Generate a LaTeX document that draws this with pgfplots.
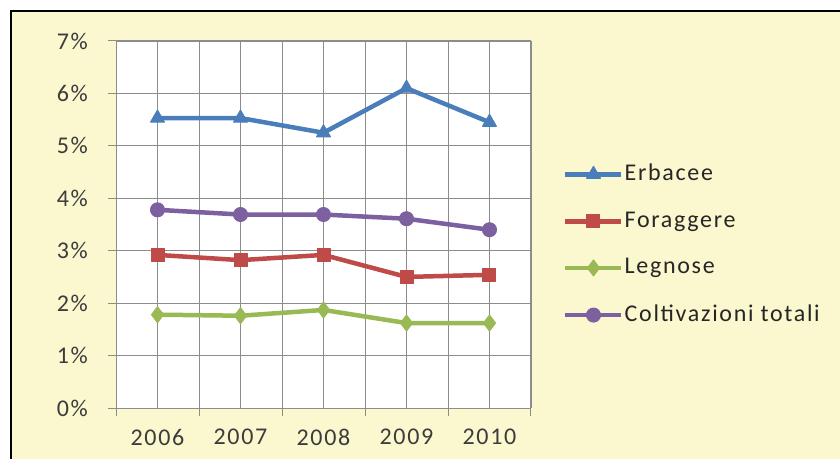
\documentclass[border=0pt]{standalone}
\usepackage{fontspec}
\setmainfont{Carlito}[LetterSpace=7]
\usepackage{pgfplots}
\pgfplotsset{compat=1.18}
\definecolor{bgyellow}{RGB}{251,247,206}
\definecolor{cblue}{RGB}{74,126,187}
\definecolor{cred}{RGB}{190,75,72}
\definecolor{cgreen}{RGB}{152,185,84}
\definecolor{cpurple}{RGB}{125,96,160}
\definecolor{gridgray}{RGB}{140,140,140}
\definecolor{txt}{RGB}{60,60,60}
\begin{document}
\fontsize{24bp}{28bp}\selectfont
\begin{tikzpicture}
\useasboundingbox (0bp,0bp) rectangle (840bp,459bp);
\fill[white] (0bp,0bp) rectangle (840bp,459bp);
\fill[bgyellow] (11bp,0bp) rectangle (840bp,448bp);
\draw[line width=2.5bp] (11bp,-3bp) -- (11bp,448bp) -- (843bp,448bp);
\begin{axis}[
  at={(116bp,51bp)}, anchor=south west,
  scale only axis, width=415bp, height=367bp,
  xmin=-0.5, xmax=4.5, ymin=0, ymax=7,
  axis background/.style={fill=white},
  xtick={0,1,2,3,4},
  xticklabels={2006,2007,2008,2009,2010},
  minor xtick={-0.5,0.5,1.5,2.5,3.5,4.5},
  ytick={0,1,2,3,4,5,6,7},
  yticklabel={\pgfmathprintnumber{\tick}\%},
  /pgf/number format/assume math mode=true,
  grid=both,
  major grid style={gridgray, line width=0.8bp},
  minor grid style={gridgray, line width=0.8bp},
  axis line style={gridgray, line width=1bp},
  major x tick style={draw=none},
  minor x tick style={gridgray, line width=1bp},
  ytick style={gridgray, line width=1bp},
  tick align=outside,
  major tick length=8bp, minor tick length=8bp,
  xtick pos=bottom, ytick pos=left,
  tick label style={font=\fontsize{24bp}{28bp}\selectfont, text=txt},
  xticklabel style={yshift=-5bp},
  yticklabel style={xshift=-12bp},
  legend style={at={(axis description cs:1.07,0.445)}, anchor=west,
    draw=none, fill=none, row sep=25.5bp,
    font=\fontsize{24bp}{28bp}\selectfont, text=black!85,
    nodes={inner sep=1bp}},
  legend cell align=left,
  legend image code/.code={
    \draw[mark repeat=2, mark phase=2] plot coordinates {(0bp,0bp) (28bp,0bp) (56bp,0bp)};
  },
  every axis plot/.append style={line width=4.5bp, line join=round},
]
\addplot[cblue, mark=triangle*, mark size=8bp, mark options={line width=1bp}]
  coordinates {(0,5.53) (1,5.53) (2,5.25) (3,6.10) (4,5.45)};
\addlegendentry{Erbacee}
\addplot[cred, mark=square*, mark size=6.5bp, mark options={line width=1bp}]
  coordinates {(0,2.92) (1,2.82) (2,2.92) (3,2.50) (4,2.54)};
\addlegendentry{Foraggere}
\addplot[cgreen, mark=diamond*, mark size=8bp, mark options={line width=1bp}]
  coordinates {(0,1.78) (1,1.76) (2,1.87) (3,1.62) (4,1.62)};
\addlegendentry{Legnose}
\addplot[cpurple, mark=*, mark size=7bp, mark options={line width=1bp}]
  coordinates {(0,3.78) (1,3.69) (2,3.69) (3,3.61) (4,3.40)};
\addlegendentry{Coltivazioni totali}
\end{axis}
\end{tikzpicture}
\end{document}
